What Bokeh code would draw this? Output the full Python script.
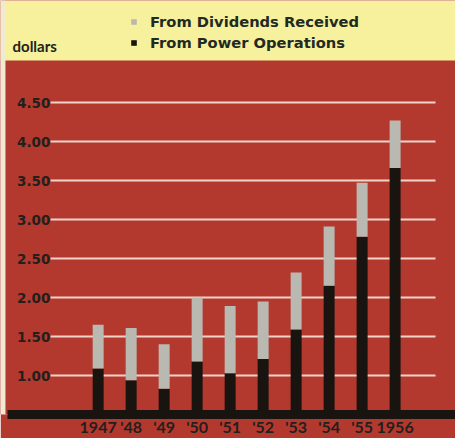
from bokeh.plotting import figure
from bokeh.models import (ColumnDataSource, FixedTicker, Legend, LegendItem,
                          BoxAnnotation, Label, Range1d)
from bokeh.embed import file_html
from bokeh.resources import INLINE

# Earnings per share, in dollars
years = [1947, 1948, 1949, 1950, 1951, 1952, 1953, 1954, 1955, 1956]
year_labels = ["1947", "'48", "'49", "'50", "'51", "'52", "'53", "'54", "'55", "1956"]
power_operations = [1.09, 0.94, 0.83, 1.18, 1.03, 1.21, 1.59, 2.15, 2.78, 3.66]
dividends_received = [0.56, 0.67, 0.57, 0.82, 0.86, 0.74, 0.73, 0.76, 0.69, 0.61]

y_ticks = [1.0, 1.5, 2.0, 2.5, 3.0, 3.5, 4.0, 4.5]
y_tick_labels = ["1.00", "1.50", "2.00", "2.50", "3.00", "3.50", "4.00", "4.50"]

RED = "#b3392e"
YELLOW = "#f7f09c"
CREAM = "#f1ead2"
BLACK = "#1a1411"
GREY = "#b9b8b1"
GRID = "#f2d3ca"
INK = "#231f1c"

source = ColumnDataSource(dict(year=years, power=power_operations,
                               dividends=dividends_received))

p = figure(width=455, height=438, output_backend="svg", toolbar_location=None,
           x_range=Range1d(1944.04, 1957.83), y_range=Range1d(0.5, 5.808),
           min_border_left=0, min_border_right=0, min_border_top=0,
           min_border_bottom=24, background_fill_color=RED,
           border_fill_color=RED, outline_line_color=None)

# pale header band and paper edge
p.add_layout(BoxAnnotation(bottom=5.038, fill_color=YELLOW, fill_alpha=1,
                           line_color=None, level="underlay"))
p.add_layout(BoxAnnotation(right=1944.19, fill_color=CREAM, fill_alpha=1,
                           line_color=None, level="underlay"))

bars = p.vbar_stack(["power", "dividends"], x="year", width=0.333,
                    color=[BLACK, GREY], line_color=None, source=source)

# y axis drawn inside the plot, just left of the rules
p.yaxis.fixed_location = 1945.61
p.yaxis.ticker = FixedTicker(ticks=y_ticks)
p.yaxis.major_label_overrides = dict(zip(y_ticks, y_tick_labels))
p.yaxis.axis_line_color = None
p.yaxis.major_tick_line_color = None
p.yaxis.minor_tick_line_color = None
p.yaxis.major_label_standoff = 2
p.yaxis.major_tick_out = 0
p.yaxis.major_label_text_font = "DejaVu Sans"
p.yaxis.major_label_text_font_style = "bold"
p.yaxis.major_label_text_font_size = "13.5px"
p.yaxis.major_label_text_color = INK

p.ygrid.ticker = FixedTicker(ticks=y_ticks)
p.ygrid.cross_bounds = (1945.55, 1957.23)
p.ygrid.grid_line_color = GRID
p.ygrid.grid_line_width = 2
p.xgrid.visible = False

# thick black baseline with year labels underneath
p.xaxis.ticker = FixedTicker(ticks=years)
p.xaxis.major_label_overrides = dict(zip(years, year_labels))
p.xaxis.bounds = (1944.25, 1957.83)
p.xaxis.axis_line_color = BLACK
p.xaxis.axis_line_width = 9
p.xaxis.major_tick_line_color = None
p.xaxis.minor_tick_line_color = None
p.xaxis.major_tick_out = 0
p.xaxis.major_tick_in = 0
p.xaxis.major_label_standoff = 2
p.xaxis.major_label_text_font = "Lato"
p.xaxis.major_label_text_font_style = "bold"
p.xaxis.major_label_text_font_size = "16px"
p.xaxis.major_label_text_color = INK

p.add_layout(Label(x=12, y=369, x_units="screen", y_units="screen",
                   text="dollars", text_font="Lato", text_font_style="bold",
                   text_font_size="15px", text_color=INK,
                   text_baseline="middle"))

legend = Legend(items=[LegendItem(label="From Dividends Received", renderers=[bars[1]]),
                       LegendItem(label="From Power Operations", renderers=[bars[0]])],
                location=(130, 361), glyph_width=7, glyph_height=7,
                label_standoff=13, padding=0, spacing=0, margin=0,
                label_height=21, label_text_font="DejaVu Sans",
                label_text_font_style="bold", label_text_font_size="14.7px",
                label_text_color="#1f2a22", background_fill_alpha=0,
                border_line_color=None)
p.add_layout(legend)

open("out.html", "w").write(file_html(p, INLINE))
